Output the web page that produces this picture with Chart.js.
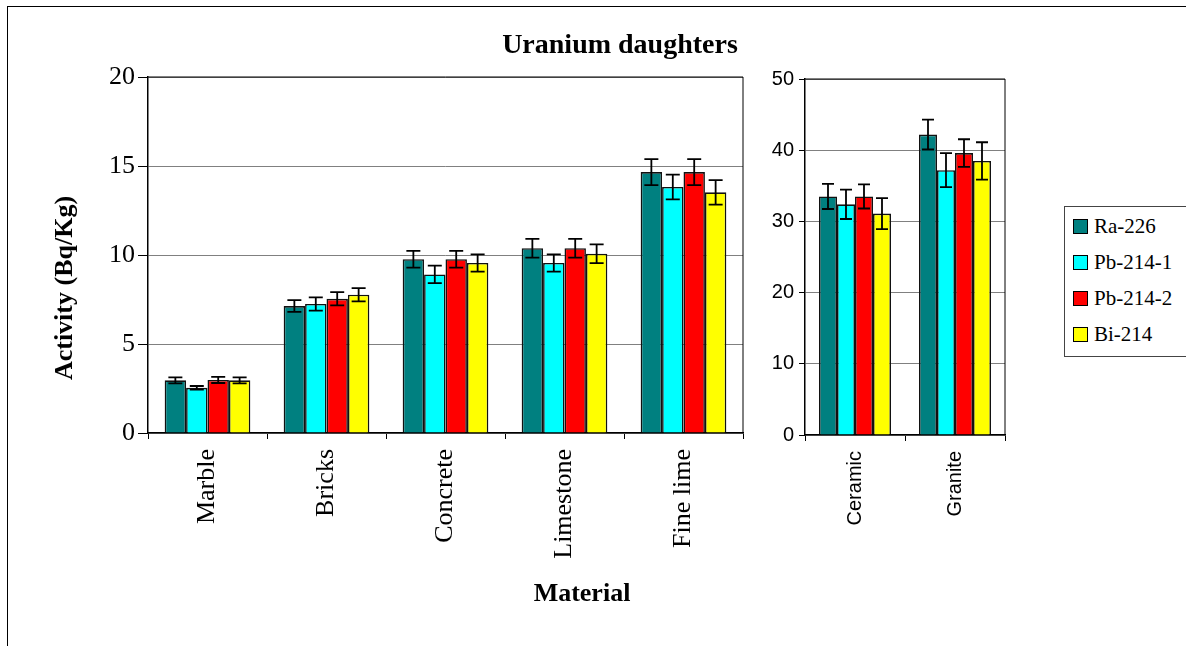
<!DOCTYPE html>
<html>
<head>
<meta charset="utf-8">
<script src="https://cdn.jsdelivr.net/npm/chart.js@4"></script>
<style>
  body { margin: 0; background: #fff; }
  #wrap { position: relative; width: 1186px; height: 646px; overflow: hidden; background: #fff; }
  #frame { position: absolute; left: 7px; top: 6px; width: 1200px; height: 660px;
           border-top: 1px solid #000; border-left: 1px solid #000; }
  canvas { position: absolute; top: 0; }
  .lbl { position: absolute; font-family: "Liberation Serif", "Times New Roman", serif;
         font-weight: bold; color: #000; text-align: center; white-space: nowrap; }
  #ytitle { left: -36px; top: 272px; width: 200px; font-size: 26px; line-height: 32px;
            transform: rotate(-90deg); transform-origin: 100px 16px; }
  #legend { position: absolute; left: 1064px; top: 206px; width: 140px; height: 149px;
            border: 1px solid #444; }
  .item { position: absolute; left: 8px; height: 24px; line-height: 24px;
          font: 21px "Liberation Serif", "Times New Roman", serif; color: #000; }
  .sw { display: inline-block; width: 13px; height: 13px; border: 1px solid #000;
        margin-right: 6px; vertical-align: -1px; }
</style>
</head>
<body>
<div id="wrap">
  <div id="frame"></div>
  <canvas id="leftChart" width="760" height="646" style="left:0;width:760px;height:646px"></canvas>
  <canvas id="rightChart" width="300" height="646" style="left:750px;width:300px;height:646px"></canvas>
  <div class="lbl" style="left:420px;top:28px;width:400px;font-size:28px;line-height:32px">Uranium daughters</div>
  <div class="lbl" id="ytitle">Activity (Bq/Kg)</div>
  <div class="lbl" style="left:482px;top:578px;width:200px;font-size:26px;line-height:30px">Material</div>
  <div id="legend"></div>
</div>
<script>
// ===== Uranium daughters =====

// --- Data ---
const seriesNames = ["Ra-226", "Pb-214-1", "Pb-214-2", "Bi-214"];
const seriesColors = ["#008080", "#00FFFF", "#FF0000", "#FFFF00"];

const leftMaterials = ["Marble", "Bricks", "Concrete", "Limestone", "Fine lime"];
const leftTicks = [0, 5, 10, 15, 20];
const ra226Left = [2.96, 7.13, 9.76, 10.38, 14.66];
const pb2141Left = [2.54, 7.25, 8.91, 9.55, 13.82];
const pb2142Left = [2.98, 7.54, 9.76, 10.38, 14.66];
const bi214Left = [2.96, 7.77, 9.55, 10.07, 13.52];
const ra226LeftErr = [0.17, 0.33, 0.47, 0.53, 0.73];
const pb2141LeftErr = [0.10, 0.37, 0.49, 0.48, 0.69];
const pb2142LeftErr = [0.17, 0.37, 0.47, 0.53, 0.73];
const bi214LeftErr = [0.17, 0.37, 0.48, 0.53, 0.69];

const rightMaterials = ["Ceramic", "Granite"];
const rightTicks = [0, 10, 20, 30, 40, 50];
const ra226Right = [33.5, 42.2];
const pb2141Right = [32.4, 37.2];
const pb2142Right = [33.5, 39.6];
const bi214Right = [31.1, 38.5];
const ra226RightErr = [1.76, 2.1];
const pb2141RightErr = [2.06, 2.39];
const pb2142RightErr = [1.69, 1.94];
const bi214RightErr = [2.18, 2.62];

// --- Plugins ---
const errorBars = {
  id: "errorBars",
  afterDatasetsDraw(chart, args, opts) {
    const { ctx, scales: { y } } = chart;
    ctx.save();
    ctx.strokeStyle = "#000";
    ctx.lineWidth = 1.8;
    chart.data.datasets.forEach((ds, i) => {
      chart.getDatasetMeta(i).data.forEach((bar, j) => {
        const v = ds.data[j], e = ds.errors[j];
        const top = y.getPixelForValue(v + e), bot = y.getPixelForValue(v - e);
        const cap = opts.cap || 7;
        ctx.beginPath();
        ctx.moveTo(bar.x, top); ctx.lineTo(bar.x, bot);
        ctx.moveTo(bar.x - cap, top); ctx.lineTo(bar.x + cap, top);
        ctx.moveTo(bar.x - cap, bot); ctx.lineTo(bar.x + cap, bot);
        ctx.stroke();
      });
    });
    ctx.restore();
  }
};

const plotFrame = {
  id: "plotFrame",
  afterDraw(chart) {
    const { ctx, chartArea: a } = chart;
    ctx.save();
    ctx.strokeStyle = "#000";
    ctx.lineWidth = 1;
    ctx.beginPath();
    ctx.moveTo(a.left, a.top); ctx.lineTo(a.right, a.top); ctx.lineTo(a.right, a.bottom);
    ctx.stroke();
    ctx.restore();
  }
};

// --- Chart builder ---
function makeDatasets(values, errors) {
  return values.map((data, i) => ({
    label: seriesNames[i],
    data,
    errors: errors[i],
    backgroundColor: seriesColors[i],
    borderColor: "#111",
    borderWidth: 1.6,
    barPercentage: 1,
    categoryPercentage: 0.72
  }));
}

function createPanel(id, labels, datasets, cfg) {
  return new Chart(document.getElementById(id), {
    type: "bar",
    data: { labels, datasets },
    plugins: [errorBars, plotFrame],
    options: {
      responsive: false,
      animation: false,
      layout: { padding: cfg.padding },
      plugins: { legend: { display: false }, tooltip: { enabled: false }, errorBars: { cap: cfg.cap } },
      scales: {
        x: {
          afterFit: s => { s.height = cfg.xHeight; },
          grid: { drawOnChartArea: false, offset: true, tickLength: 6, tickColor: "#000" },
          border: { color: "#000", width: 1.5 },
          ticks: { autoSkip: false, minRotation: 90, maxRotation: 90, padding: 10,
                   color: "#000", font: cfg.tickFont }
        },
        y: {
          min: cfg.ticks[0],
          max: cfg.ticks[cfg.ticks.length - 1],
          afterFit: s => { s.width = cfg.yWidth; },
          afterBuildTicks: s => { s.ticks = cfg.ticks.map(value => ({ value })); },
          grid: { color: "#808080", lineWidth: 1, tickLength: cfg.tickLength, tickColor: "#000" },
          border: { color: "#000", width: 1.5 },
          ticks: { padding: cfg.tickPad, color: "#000", font: cfg.tickFont }
        }
      }
    }
  });
}

// --- Init ---
createPanel("leftChart", leftMaterials,
  makeDatasets([ra226Left, pb2141Left, pb2142Left, bi214Left],
               [ra226LeftErr, pb2141LeftErr, pb2142LeftErr, bi214LeftErr]), {
  padding: { top: 77, right: 17, bottom: 0, left: 40 },
  xHeight: 213, yWidth: 108, tickLength: 10, tickPad: 3, cap: 7,
  ticks: leftTicks,
  tickFont: { family: "'Liberation Serif', 'Times New Roman', serif", size: 26 }
});

createPanel("rightChart", rightMaterials,
  makeDatasets([ra226Right, pb2141Right, pb2142Right, bi214Right],
               [ra226RightErr, pb2141RightErr, pb2142RightErr, bi214RightErr]), {
  padding: { top: 79, right: 45, bottom: 0, left: 0 },
  xHeight: 211, yWidth: 55, tickLength: 6, tickPad: 5, cap: 6,
  ticks: rightTicks,
  tickFont: { family: "'Liberation Sans', Arial, sans-serif", size: 20 }
});

// Legend
const legend = document.getElementById("legend");
seriesNames.forEach((name, i) => {
  const row = document.createElement("div");
  row.className = "item";
  row.style.top = (7 + i * 36) + "px";
  row.innerHTML = `<span class="sw" style="background:${seriesColors[i]}"></span>${name}`;
  legend.appendChild(row);
});
</script>
</body>
</html>
